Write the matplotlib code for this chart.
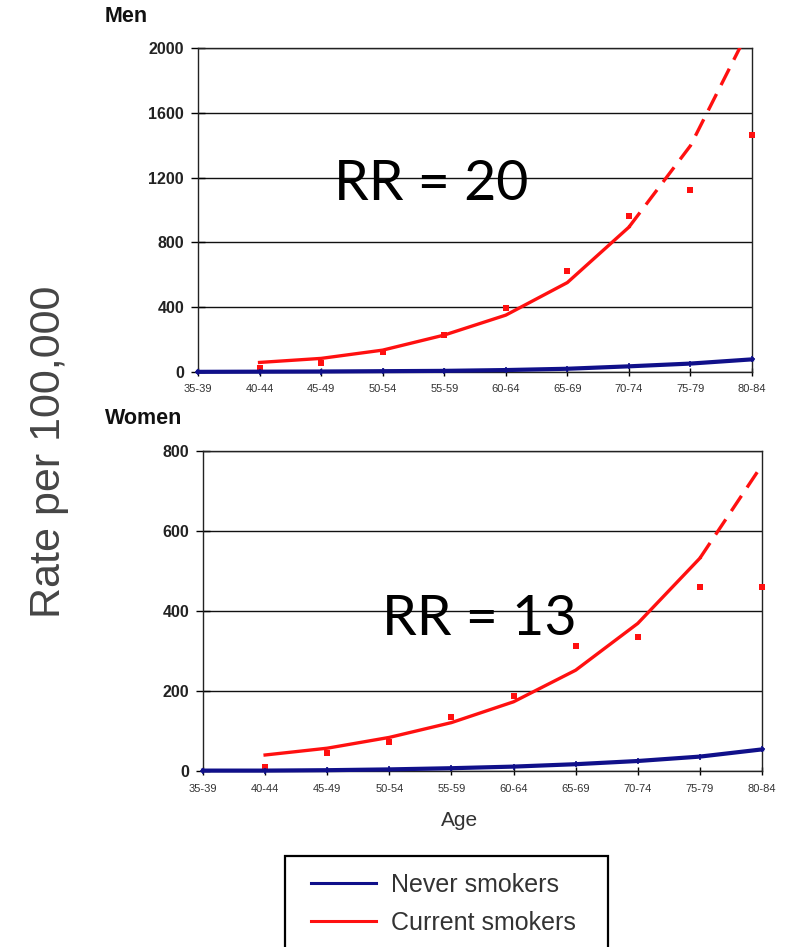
import numpy as np
import matplotlib
matplotlib.use("Agg")
import matplotlib.pyplot as plt
from matplotlib.patches import Rectangle

plt.rcParams["font.family"] = ["Liberation Sans", "DejaVu Sans"]

# age groups on the x axis
ages = ["35-39", "40-44", "45-49", "50-54", "55-59",
        "60-64", "65-69", "70-74", "75-79", "80-84"]

# Men, rate per 100,000
men_never = [1, 2, 3, 5, 7, 12, 20, 35, 52, 78]
men_current_obs = [np.nan, 22, 53, 125, 228, 396, 623, 966, 1124, 1463]
men_current_fit = [np.nan, 59, 84, 135, 228, 351, 552, 894, 1397, 2150]
men_dash_from = "70-74"

# Women, rate per 100,000
women_never = [1, 1, 2, 4, 7, 11, 17, 25, 36, 54]
women_current_obs = [np.nan, 11, 46, 73, 136, 188, 312, 334, 461, 459]
women_current_fit = [np.nan, 40, 57, 84, 121, 173, 252, 369, 532, 765]
women_dash_from = "75-79"

men_yticks = [0, 400, 800, 1200, 1600, 2000]
women_yticks = [0, 200, 400, 600, 800]

RED = "#ff1010"
BLUE = "#10108a"
TXT = "#333333"


def _panel(ax, never, obs, fit, dash_from, yticks):
    x = np.arange(len(ages))
    fit = np.asarray(fit, dtype=float)
    k = ages.index(dash_from)
    ax.plot(x, never, color=BLUE, linewidth=3.0, marker="+", markersize=5,
            markeredgewidth=1.2, zorder=4, clip_on=False)
    ax.plot(x[:k + 1], fit[:k + 1], color=RED, linewidth=2.4, zorder=3)
    ax.plot(x[k:], fit[k:], color=RED, linewidth=2.4, linestyle=(0, (5.5, 3)), zorder=3)
    ax.plot(x, obs, linestyle="none", marker="s", markersize=4.5,
            color=RED, markeredgewidth=0, zorder=3, clip_on=False)
    ax.set_xlim(0, len(ages) - 1)
    ax.set_ylim(yticks[0], yticks[-1])
    ax.set_xticks(x)
    ax.set_xticklabels(ages, fontsize=8, color=TXT)
    ax.set_yticks(yticks)
    ax.set_yticklabels([str(v) for v in yticks], fontsize=11.5, fontweight="bold", color="#222222")
    ax.tick_params(axis="x", direction="inout", length=6, width=1, pad=6)
    ax.tick_params(axis="y", direction="inout", length=10, width=1, pad=5)
    ax.grid(True, axis="y", color="#111111", linewidth=1.0)
    for s in ax.spines.values():
        s.set_color("#222222")
        s.set_linewidth(1.0)


W, H = 791, 947
fig = plt.figure(figsize=(W / 100, H / 100), dpi=100)

ax1 = fig.add_axes([198 / W, 1 - 372 / H, 554 / W, 324 / H])
_panel(ax1, men_never, men_current_obs, men_current_fit, men_dash_from, men_yticks)
ax2 = fig.add_axes([203 / W, 1 - 771 / H, 559 / W, 320 / H])
_panel(ax2, women_never, women_current_obs, women_current_fit, women_dash_from, women_yticks)

fig.text(105 / W, 1 - 16 / H, "Men", fontsize=15.5, fontweight="bold", va="center", color="#111111")
fig.text(105 / W, 1 - 418 / H, "Women", fontsize=15.5, fontweight="bold", va="center", color="#111111")

ax1.text((431 - 198) / 554, (372 - 185) / 324, "RR = 20", transform=ax1.transAxes,
         fontsize=40, family=["Lato", "DejaVu Sans"], ha="center", va="center", color="black")
ax2.text((479 - 203) / 559, (771 - 619) / 320, "RR = 13", transform=ax2.transAxes,
         fontsize=40, family=["Lato", "DejaVu Sans"], ha="center", va="center", color="black")

fig.text(49 / W, 1 - 452 / H, "Rate per 100,000", rotation=90, fontsize=31,
         ha="center", va="center", color="#454545")
fig.text(460 / W, 1 - 820 / H, "Age", fontsize=15, ha="center", va="center", color=TXT)

# legend box runs off the bottom edge, so draw the frame separately
fig.add_artist(Rectangle((285 / W, 1 - 965 / H), 323 / W, 109 / H, transform=fig.transFigure,
                         facecolor="white", edgecolor="black", linewidth=1.6, zorder=1))
handles = [plt.Line2D([], [], color=BLUE, linewidth=2.2),
           plt.Line2D([], [], color=RED, linewidth=2.2)]
leg = fig.legend(handles, ["Never smokers", "Current smokers"],
                 loc="upper left", bbox_to_anchor=(311 / W, 1 - 873 / H),
                 fontsize=18, frameon=False, borderpad=0,
                 labelspacing=0.56, handlelength=2.6, handletextpad=0.6,
                 borderaxespad=0)
leg.set_zorder(2)
for t in leg.get_texts():
    t.set_color(TXT)

fig.savefig("out.png", dpi=100)
